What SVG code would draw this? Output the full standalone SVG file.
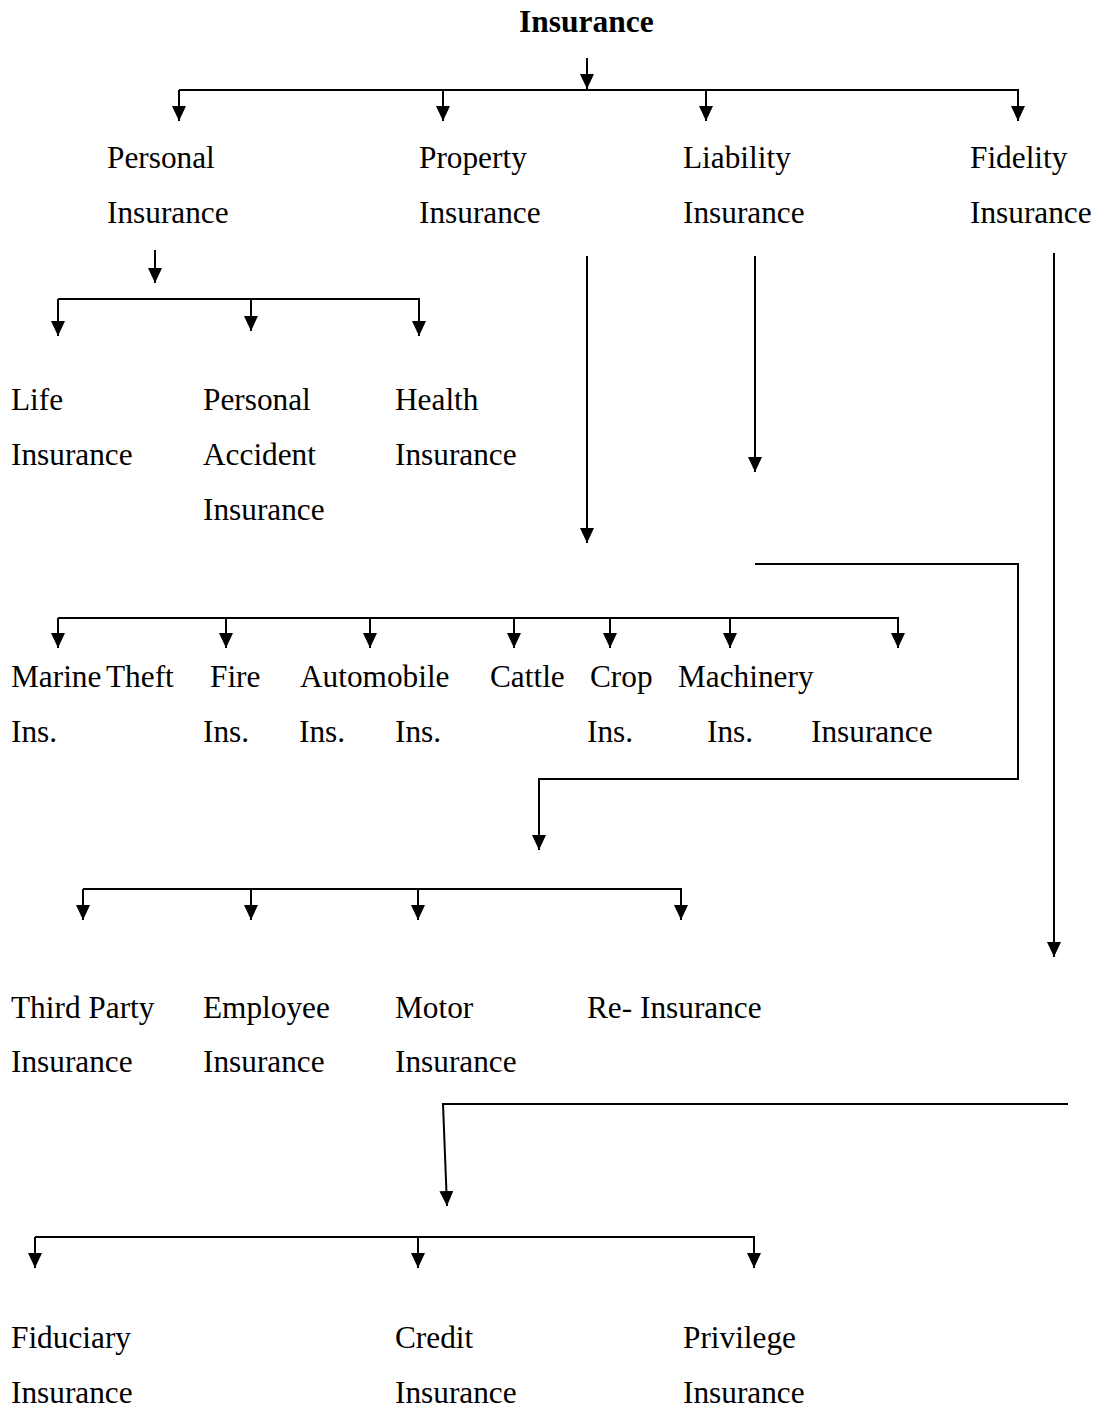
<svg xmlns="http://www.w3.org/2000/svg" width="1099" height="1408" viewBox="0 0 1099 1408">
<defs>
<marker id="ah" markerUnits="userSpaceOnUse" markerWidth="16" markerHeight="14" refX="15" refY="7" orient="auto">
<path d="M0,0 L15,7 L0,14 z" fill="#000"/>
</marker>
<style>
text{font-family:"Liberation Serif","Times New Roman",serif;font-size:31.3px;fill:#000}
.title{font-weight:bold;font-size:31.5px}
.c line,.c polyline{stroke:#000;stroke-width:2;fill:none}
.a{marker-end:url(#ah)}
</style>
</defs>
<rect width="1099" height="1408" fill="#fff"/>
<g id="connectors" class="c">
<line class="a" x1="587" y1="58" x2="587" y2="89"/>
<line x1="179" y1="90" x2="1019" y2="90"/>
<line class="a" x1="179" y1="90" x2="179" y2="121"/>
<line class="a" x1="443" y1="90" x2="443" y2="121"/>
<line class="a" x1="706" y1="90" x2="706" y2="121"/>
<line class="a" x1="1018" y1="90" x2="1018" y2="121"/>
<line class="a" x1="155" y1="250" x2="155" y2="283"/>
<line x1="58" y1="299" x2="420" y2="299"/>
<line class="a" x1="58" y1="299" x2="58" y2="336"/>
<line class="a" x1="251" y1="299" x2="251" y2="331"/>
<line class="a" x1="419" y1="299" x2="419" y2="336"/>
<line class="a" x1="587" y1="256" x2="587" y2="543"/>
<line class="a" x1="755" y1="256" x2="755" y2="472"/>
<line class="a" x1="1054" y1="253" x2="1054" y2="957"/>
<line x1="58" y1="618" x2="899" y2="618"/>
<line class="a" x1="58" y1="618" x2="58" y2="648"/>
<line class="a" x1="226" y1="618" x2="226" y2="648"/>
<line class="a" x1="370" y1="618" x2="370" y2="648"/>
<line class="a" x1="514" y1="618" x2="514" y2="648"/>
<line class="a" x1="610" y1="618" x2="610" y2="648"/>
<line class="a" x1="730" y1="618" x2="730" y2="648"/>
<line class="a" x1="898" y1="618" x2="898" y2="648"/>
<polyline class="a" points="755,564 1018,564 1018,779 539,779 539,850"/>
<line x1="83" y1="889" x2="682" y2="889"/>
<line class="a" x1="83" y1="889" x2="83" y2="920"/>
<line class="a" x1="251" y1="889" x2="251" y2="920"/>
<line class="a" x1="418" y1="889" x2="418" y2="920"/>
<line class="a" x1="681" y1="889" x2="681" y2="920"/>
<polyline class="a" points="1068,1104 443,1104 447,1206"/>
<line x1="35" y1="1237" x2="755" y2="1237"/>
<line class="a" x1="35" y1="1237" x2="35" y2="1268"/>
<line class="a" x1="418" y1="1237" x2="418" y2="1268"/>
<line class="a" x1="754" y1="1237" x2="754" y2="1268"/>
</g>
<g id="insurance"><text class="title" x="519" y="32">Insurance</text></g>
<g id="personal"><text x="107" y="168">Personal</text><text x="107" y="223">Insurance</text></g>
<g id="property"><text x="419" y="168">Property</text><text x="419" y="223">Insurance</text></g>
<g id="liability"><text x="683" y="168">Liability</text><text x="683" y="223">Insurance</text></g>
<g id="fidelity"><text x="970" y="168">Fidelity</text><text x="970" y="223">Insurance</text></g>
<g id="life"><text x="11" y="410">Life</text><text x="11" y="465">Insurance</text></g>
<g id="personal-accident"><text x="203" y="410">Personal</text><text x="203" y="465">Accident</text><text x="203" y="520">Insurance</text></g>
<g id="health"><text x="395" y="410">Health</text><text x="395" y="465">Insurance</text></g>
<g id="marine"><text x="11" y="687">Marine</text><text x="11" y="742">Ins.</text></g>
<g id="theft"><text x="106" y="687">Theft</text></g>
<g id="fire"><text x="210" y="687">Fire</text><text x="203" y="742">Ins.</text></g>
<g id="automobile"><text x="300" y="687">Automobile</text><text x="299" y="742">Ins.</text><text x="395" y="742">Ins.</text></g>
<g id="cattle"><text x="490" y="687">Cattle</text></g>
<g id="crop"><text x="590" y="687">Crop</text><text x="587" y="742">Ins.</text></g>
<g id="machinery"><text x="678" y="687">Machinery</text><text x="707" y="742">Ins.</text></g>
<g id="insurance-7"><text x="811" y="742">Insurance</text></g>
<g id="third-party"><text x="11" y="1018">Third Party</text><text x="11" y="1072">Insurance</text></g>
<g id="employee"><text x="203" y="1018">Employee</text><text x="203" y="1072">Insurance</text></g>
<g id="motor"><text x="395" y="1018">Motor</text><text x="395" y="1072">Insurance</text></g>
<g id="re-insurance"><text x="587" y="1018">Re- Insurance</text></g>
<g id="fiduciary"><text x="11" y="1348">Fiduciary</text><text x="11" y="1403">Insurance</text></g>
<g id="credit"><text x="395" y="1348">Credit</text><text x="395" y="1403">Insurance</text></g>
<g id="privilege"><text x="683" y="1348">Privilege</text><text x="683" y="1403">Insurance</text></g>
</svg>
